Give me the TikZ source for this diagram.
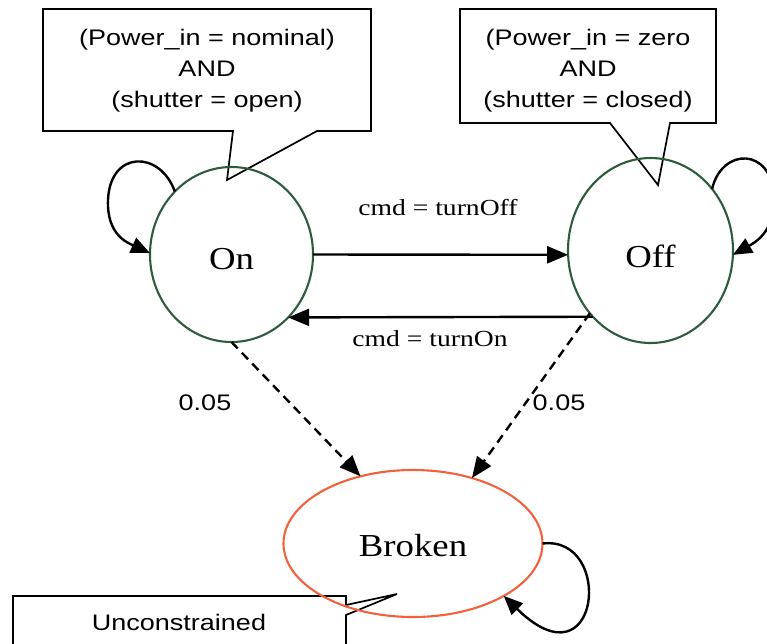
\documentclass[tikz,border=0pt]{standalone}
\usepackage{fontspec}
\usetikzlibrary{arrows.meta,shapes.geometric}
\newfontfamily\labelsans{Liberation Sans}[FakeStretch=1.2]
\newfontfamily\labelserif{Liberation Serif}[FakeStretch=1.2]
\newfontfamily\statefont{Liberation Serif}[FakeStretch=1.15]
\definecolor{stategreen}{RGB}{45,92,60}
\definecolor{brokenred}{RGB}{244,96,60}

\begin{document}
\begin{tikzpicture}[x=1pt,y=-1pt,
  state/.style={ellipse, draw=stategreen, line width=2.1pt, inner sep=0pt,
    outer sep=0pt, text depth=0pt, font=\statefont\fontsize{32}{32}\selectfont},
  notebox/.style={draw=black, line width=1.7pt, line join=miter},
  notetext/.style={align=center, inner sep=0pt,
    font=\labelsans\fontsize{22.5}{31}\selectfont},
  trans/.style={line width=2.4pt, -{Triangle[length=21pt,width=17pt]}},
  dashtrans/.style={trans, dash pattern=on 9pt off 6pt},
  selfloop/.style={line width=2.4pt, -{Triangle[length=19pt,width=16pt]}},
  cmdlabel/.style={inner sep=0pt, font=\labelserif\fontsize{23}{23}\selectfont},
  problabel/.style={inner sep=0pt, font=\labelsans\fontsize{22.5}{22.5}\selectfont}
]
\useasboundingbox (0,0) rectangle (767,643);
\clip (0,0) rectangle (767,643);

% condition callouts
\draw[notebox] (43,9) -- (371,9) -- (371,131) -- (317,131) -- (227,180)
  -- (233,131) -- (43,131) -- cycle;
\draw[notebox] (460,9) -- (716,9) -- (716,123) -- (670,123) -- (658,185)
  -- (610,123) -- (460,123) -- cycle;
\draw[notebox] (13,660) -- (13,596) -- (346,596) -- (346,605) -- (397,594)
  -- (346,615) -- (346,660);

\node[notetext] (condon) at (207,71)
  {(Power\_in = nominal)\\AND\\(shutter = open)};
\node[notetext] (condoff) at (588,71)
  {(Power\_in = zero\\AND\\(shutter = closed)};
\node[notetext] (condbroken) at (179,622) {Unconstrained};

% states
\node[state, text height=29pt, minimum width=163pt, minimum height=175pt]
  (on) at (231.5,254.5) {On};
\node[state, text height=34pt, minimum width=165pt, minimum height=185pt]
  (off) at (650.5,250.5) {Off};
\node[state, text height=25pt, draw=brokenred, minimum width=259pt, minimum height=147pt]
  (broken) at (413,543.5) {Broken};

% commanded transitions
\draw[trans] (on.0) -- (off.183);
\draw[trans] (off.229) -- (on.312);
\node[cmdlabel] (lbloff) at (438,208) {cmd = turnOff};
\node[cmdlabel] (lblon) at (430,339) {cmd = turnOn};

% failure transitions
\draw[dashtrans] (on.270) -- (broken.128);
\draw[dashtrans] (off.226) -- (broken.48);
\node[problabel] (pon) at (205,403) {0.05};
\node[problabel] (poff) at (559,403) {0.05};

% self loops
\draw[selfloop] (on.132) .. controls (160,150) and (110,150) .. (108,200)
  .. controls (106.6,235) and (128,243) .. (on.179);
\draw[selfloop] (off.45) .. controls (722,147) and (772,147) .. (774,197)
  .. controls (775.4,232) and (754,243) .. (off.357);
\draw[selfloop] (broken.0) .. controls (615,535) and (600,690) .. (broken.330);
\end{tikzpicture}
\end{document}
